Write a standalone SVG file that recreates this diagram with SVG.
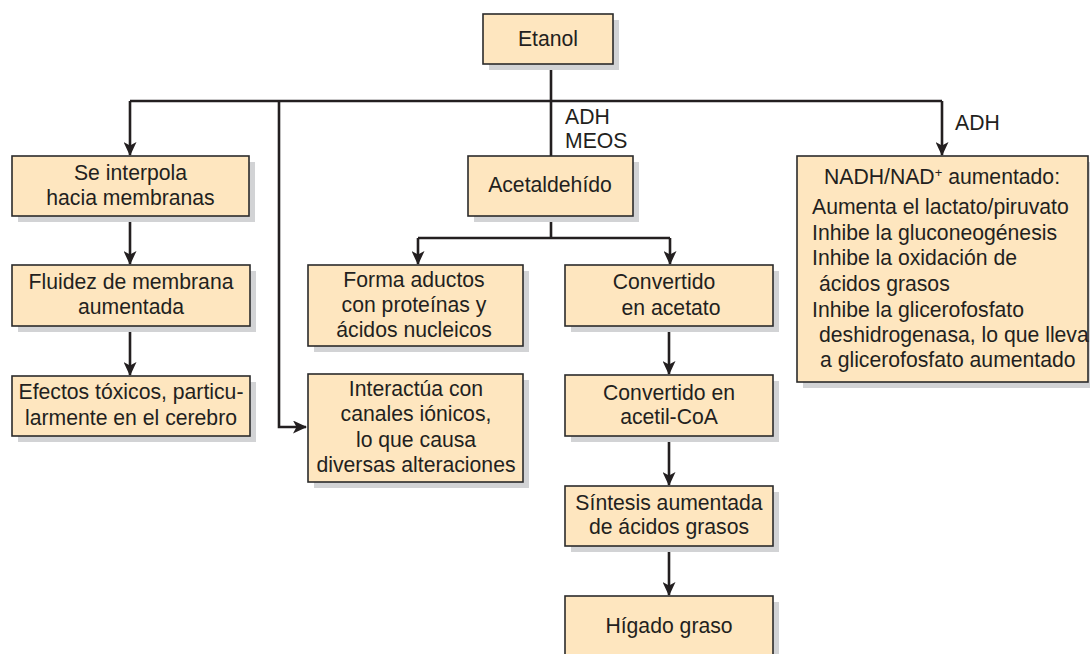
<svg xmlns="http://www.w3.org/2000/svg" width="1090" height="654" viewBox="0 0 1090 654">
<style>
.box{fill:#fee6bf;stroke:#2b2b2b;stroke-width:1.6}
.sh{fill:#d2d3d5}
.t{font-family:"Liberation Sans",Arial,sans-serif;font-size:21.2px;fill:#231f20}
.c{text-anchor:middle}
.ln{fill:none;stroke:#231f20;stroke-width:2.6}
</style>
<defs>
<marker id="ah" markerWidth="14" markerHeight="13" refX="13" refY="6.5" orient="auto" markerUnits="userSpaceOnUse">
<path d="M0,0 L14,6.5 L0,13 L3.5,6.5 z" fill="#231f20"/>
</marker>
</defs>
<rect width="1090" height="654" fill="#ffffff"/>
<g id="connectors">
<path class="ln" d="M551,64 V156"/>
<path class="ln" d="M130,101 H942"/>
<path class="ln" d="M130,101 V155" marker-end="url(#ah)"/>
<path class="ln" d="M942,101 V155" marker-end="url(#ah)"/>
<path class="ln" d="M279,101 V427 H306" marker-end="url(#ah)"/>
<path class="ln" d="M130,216 V264" marker-end="url(#ah)"/>
<path class="ln" d="M130,326 V375" marker-end="url(#ah)"/>
<path class="ln" d="M551,216 V238"/>
<path class="ln" d="M418,238 H670"/>
<path class="ln" d="M418,238 V264" marker-end="url(#ah)"/>
<path class="ln" d="M670,238 V264" marker-end="url(#ah)"/>
<path class="ln" d="M669,326 V374" marker-end="url(#ah)"/>
<path class="ln" d="M669,436 V485" marker-end="url(#ah)"/>
<path class="ln" d="M669,546 V595" marker-end="url(#ah)"/>
</g>
<g id="labels">
<text class="t" x="565" y="124">ADH</text>
<text class="t" x="565" y="148">MEOS</text>
<text class="t" x="955" y="130">ADH</text>
</g>
<g id="etanol">
<rect class="sh" x="489" y="20" width="130" height="50"/>
<rect class="box" x="483" y="14" width="130" height="50"/>
<text class="t c" x="548" y="46">Etanol</text>
</g>
<g id="interpola">
<rect class="sh" x="18" y="162" width="237" height="60"/>
<rect class="box" x="12" y="156" width="237" height="60"/>
<text class="t c" x="130.5" y="180">Se interpola</text>
<text class="t c" x="130.5" y="205">hacia membranas</text>
</g>
<g id="fluidez">
<rect class="sh" x="18" y="271" width="238" height="61"/>
<rect class="box" x="12" y="265" width="238" height="61"/>
<text class="t c" x="131" y="289">Fluidez de membrana</text>
<text class="t c" x="131" y="314">aumentada</text>
</g>
<g id="efectos">
<rect class="sh" x="18" y="382" width="238" height="60"/>
<rect class="box" x="12" y="376" width="238" height="60"/>
<text class="t c" x="131" y="399">Efectos tóxicos, particu-</text>
<text class="t c" x="131" y="425">larmente en el cerebro</text>
</g>
<g id="acetaldehido">
<rect class="sh" x="474" y="162" width="165" height="60"/>
<rect class="box" x="468" y="156" width="165" height="60"/>
<text class="t c" x="550" y="192">Acetaldehído</text>
</g>
<g id="aductos">
<rect class="sh" x="314" y="271" width="215" height="81"/>
<rect class="box" x="308" y="265" width="215" height="81"/>
<text class="t c" x="414" y="287">Forma aductos</text>
<text class="t c" x="414" y="312">con proteínas y</text>
<text class="t c" x="414" y="337">ácidos nucleicos</text>
</g>
<g id="interactua">
<rect class="sh" x="314" y="380" width="215" height="108"/>
<rect class="box" x="308" y="374" width="215" height="108"/>
<text class="t c" x="416" y="396">Interactúa con</text>
<text class="t c" x="416" y="421">canales iónicos,</text>
<text class="t c" x="416" y="447">lo que causa</text>
<text class="t c" x="416" y="472">diversas alteraciones</text>
</g>
<g id="acetato">
<rect class="sh" x="571" y="271" width="208" height="61"/>
<rect class="box" x="565" y="265" width="208" height="61"/>
<text class="t c" x="664" y="289">Convertido</text>
<text class="t c" x="671" y="315">en acetato</text>
</g>
<g id="acetilcoa">
<rect class="sh" x="571" y="381" width="208" height="61"/>
<rect class="box" x="565" y="375" width="208" height="61"/>
<text class="t c" x="669" y="400">Convertido en</text>
<text class="t c" x="669" y="424">acetil-CoA</text>
</g>
<g id="sintesis">
<rect class="sh" x="571" y="492" width="208" height="60"/>
<rect class="box" x="565" y="486" width="208" height="60"/>
<text class="t c" x="669" y="510">Síntesis aumentada</text>
<text class="t c" x="669" y="534">de ácidos grasos</text>
</g>
<g id="higado">
<rect class="sh" x="571" y="602" width="208" height="60"/>
<rect class="box" x="565" y="596" width="208" height="62"/>
<text class="t c" x="669" y="633">Hígado graso</text>
</g>
<g id="nadh">
<rect class="sh" x="803" y="162" width="300" height="226"/>
<rect class="box" x="797" y="156" width="291" height="226"/>
<text class="t" x="824" y="184">NADH/NAD<tspan font-size="13" dy="-7">+</tspan><tspan dy="7"> aumentado:</tspan></text>
<text class="t" x="812" y="214">Aumenta el lactato/piruvato</text>
<text class="t" x="812" y="240">Inhibe la gluconeogénesis</text>
<text class="t" x="812" y="265">Inhibe la oxidación de</text>
<text class="t" x="819" y="291">ácidos grasos</text>
<text class="t" x="812" y="317">Inhibe la glicerofosfato</text>
<text class="t" x="819" y="342">deshidrogenasa, lo que lleva</text>
<text class="t" x="820" y="367">a glicerofosfato aumentado</text>
</g>
</svg>
